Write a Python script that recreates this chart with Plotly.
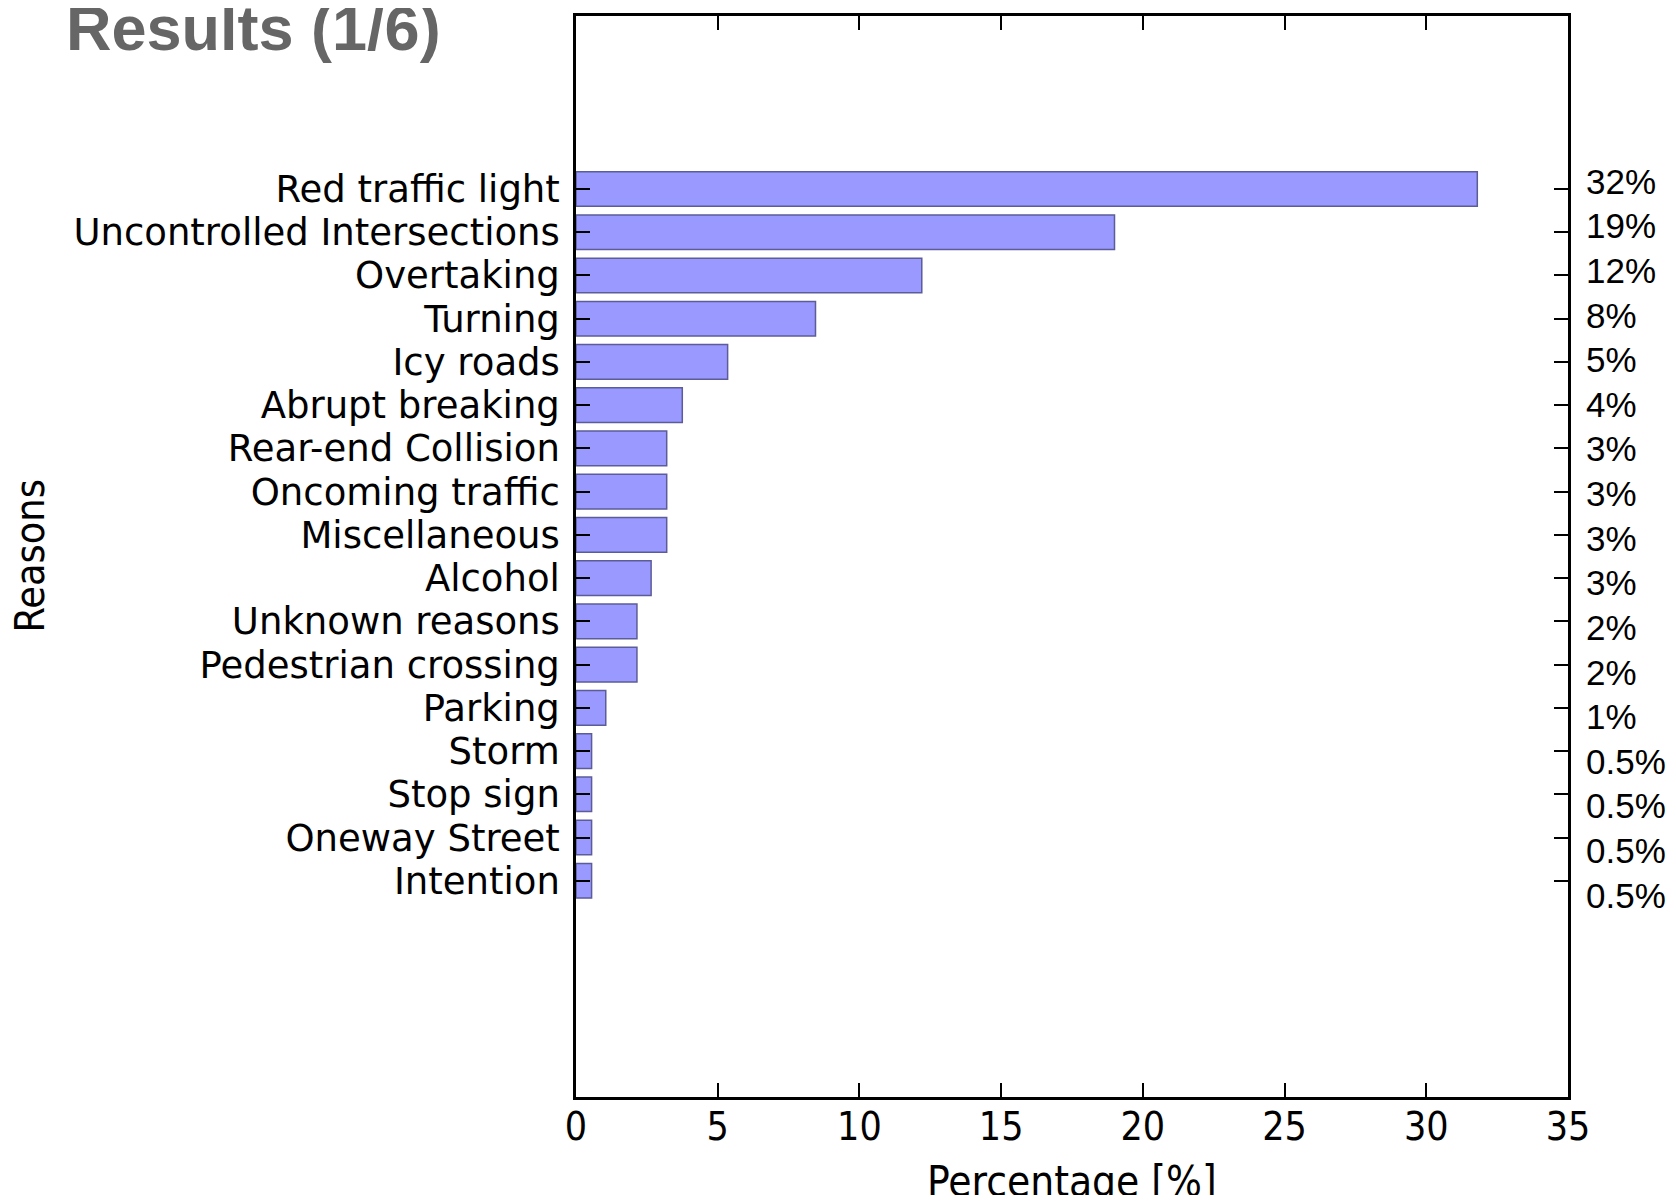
import plotly.graph_objects as go

# ---- data ----
reasons = ["Red traffic light", "Uncontrolled Intersections", "Overtaking", "Turning",
           "Icy roads", "Abrupt breaking", "Rear-end Collision", "Oncoming traffic",
           "Miscellaneous", "Alcohol", "Unknown reasons", "Pedestrian crossing",
           "Parking", "Storm", "Stop sign", "Oneway Street", "Intention"]
percentages = [31.8, 19.0, 12.2, 8.45, 5.35, 3.75, 3.2, 3.2, 3.2, 2.65, 2.15, 2.15,
               1.05, 0.55, 0.55, 0.55, 0.55]
pct_labels = ["32%", "19%", "12%", "8%", "5%", "4%", "3%", "3%", "3%", "3%", "2%", "2%",
              "1%", "0.5%", "0.5%", "0.5%", "0.5%"]
x_ticks = [0, 5, 10, 15, 20, 25, 30, 35]

n = len(reasons)
ypos = [n - 1 - i for i in range(n)]

# figure sized to fit inside the page's default body margin
W, H = 1660, 1187
ML, MT = 568, 8
PLOT_R, PLOT_B = 1560, 1089
MR, MB = W - PLOT_R, H - PLOT_B
PW, PH = PLOT_R - ML, PLOT_B - MT

fig = go.Figure()
fig.add_trace(go.Bar(
    x=percentages, y=ypos, orientation="h", width=0.8,
    marker=dict(color="#9999ff", line=dict(color="#5c5c99", width=1.5)),
    showlegend=False, hoverinfo="x+text", text=reasons, textposition="none",
))
# invisible trace to activate the right-side label axis
fig.add_trace(go.Scatter(x=[0], y=[0], yaxis="y2", mode="markers",
                         marker=dict(opacity=0), showlegend=False, hoverinfo="skip"))

tick_font_left = dict(family="DejaVu Sans", size=37, color="#000")
cond_font = dict(family="DejaVu Sans Condensed, DejaVu Sans", size=39, color="#000")

fig.update_layout(
    width=W, height=H,
    margin=dict(l=ML, r=MR, t=MT, b=MB, autoexpand=False),
    paper_bgcolor="white", plot_bgcolor="white",
    bargap=0.2,
    xaxis=dict(
        range=[0, 35], tickvals=x_ticks, ticktext=[str(v) for v in x_ticks],
        ticks="inside", ticklen=14, tickwidth=1.5, tickcolor="#000",
        showline=True, linecolor="#000", linewidth=2.5, mirror="ticks",
        showgrid=False, zeroline=False, tickfont=cond_font, ticklabelstandoff=-7,
        fixedrange=True, automargin=False,
    ),
    yaxis=dict(
        range=[-5, 20], tickvals=ypos, ticktext=reasons,
        ticks="inside", ticklen=14, tickwidth=1.5, tickcolor="#000",
        showline=True, linecolor="#000", linewidth=2.5, mirror="ticks",
        showgrid=False, zeroline=False, tickfont=tick_font_left, ticklabelstandoff=6,
        automargin=False,
    ),
    yaxis2=dict(
        overlaying="y", side="right", range=[-4.52, 19.71],
        tickvals=ypos, ticktext=pct_labels, ticks="",
        showline=False, showgrid=False, zeroline=False,
        tickfont=dict(family="Liberation Sans, Arial", size=35, color="#000"),
        ticklabelstandoff=17, automargin=False,
    ),
    annotations=[
        dict(text="Percentage [%]", xref="paper", yref="paper", x=0.5,
             y=(PLOT_B - 1173) / PH,
             xanchor="center", yanchor="middle", showarrow=False,
             font=dict(family="DejaVu Sans Condensed, DejaVu Sans", size=42, color="#000")),
        dict(text="Reasons", xref="paper", yref="paper", x=(21 - ML) / PW, y=0.5,
             xanchor="center", yanchor="middle", textangle=-90, showarrow=False,
             font=dict(family="DejaVu Sans Condensed, DejaVu Sans", size=41, color="#000")),
        dict(text="<b>Results (1/6)</b>", xref="paper", yref="paper",
             x=(56 - ML) / PW, y=1 + (MT - 20) / PH,
             xanchor="left", yanchor="middle", showarrow=False,
             font=dict(family="Liberation Sans, Arial", size=63, color="#666666")),
    ],
)

fig.write_html("out.html")
